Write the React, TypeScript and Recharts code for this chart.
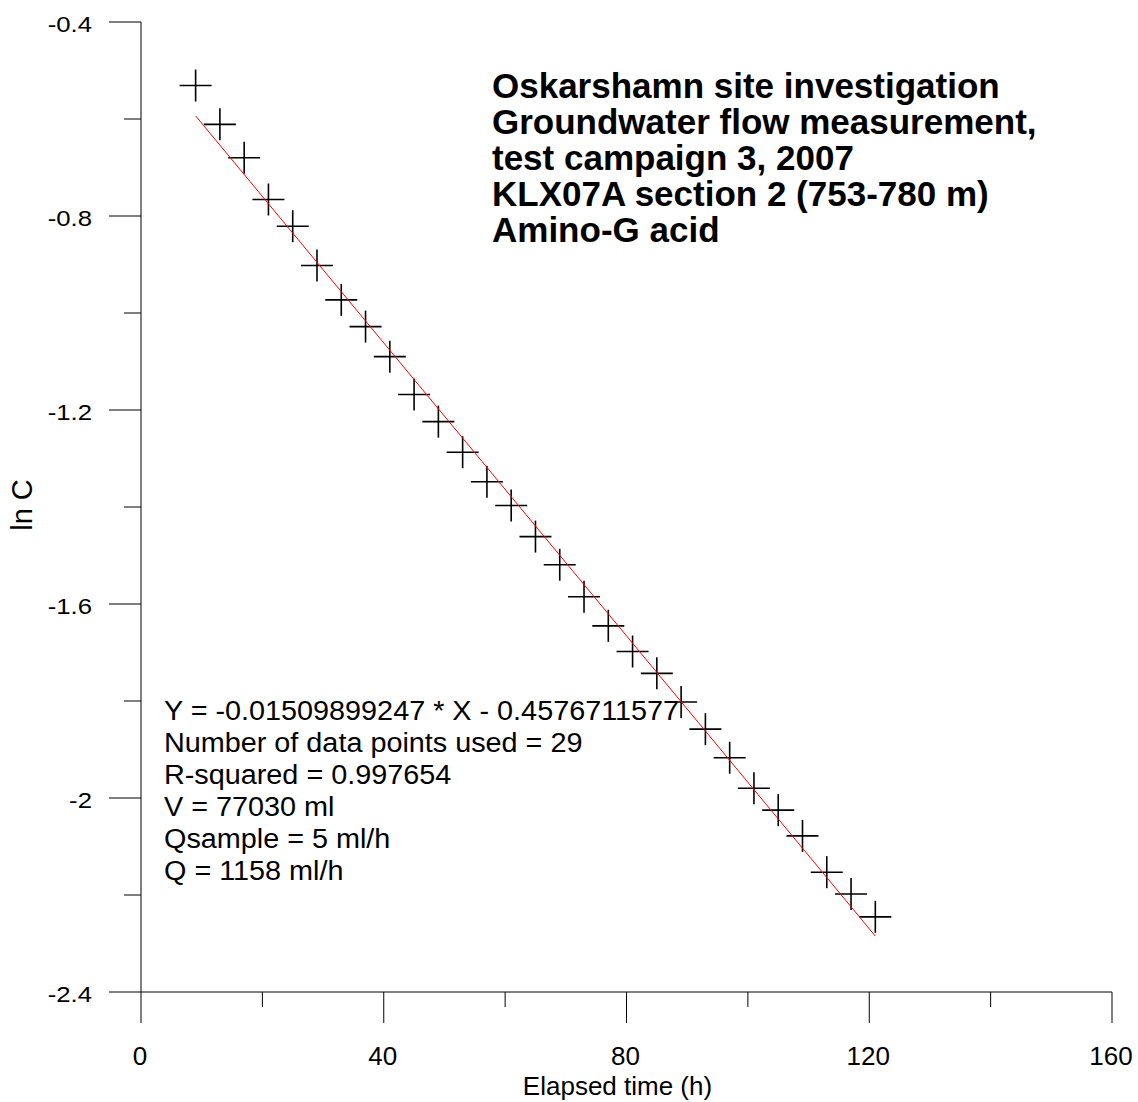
import {
    ScatterChart,
    Scatter,
    XAxis,
    YAxis,
    Label,
} from "recharts";

// elapsed time (h) of each sample
const elapsed = [
    9, 13, 17, 21, 25, 29, 33, 37, 41, 45, 49, 53, 57, 61, 65,
    69, 73, 77, 81, 85, 89, 93, 97, 101, 105, 109, 113, 117, 121,
];

// ln C
const lnC = [
    -0.531, -0.611, -0.68, -0.766, -0.821, -0.902, -0.973, -1.028, -1.09,
    -1.168, -1.224, -1.287, -1.348, -1.397, -1.461, -1.519, -1.585, -1.645,
    -1.698, -1.743, -1.802, -1.858, -1.917, -1.98, -2.025, -2.078, -2.153,
    -2.198, -2.245,
];

// fitted line end points (Y = -0.01509899247 * X - 0.4576711577)
const fitX = [9, 121];
const fitY = [-0.5936, -2.2847];

const xTicks = [0, 20, 40, 60, 80, 100, 120, 140, 160];
const yTicks = [-2.4, -2.2, -2, -1.8, -1.6, -1.4, -1.2, -1, -0.8, -0.6, -0.4];

const titleLines = [
    "Oskarshamn site investigation",
    "Groundwater flow measurement,",
    "test campaign 3, 2007",
    "KLX07A section 2 (753-780 m)",
    "Amino-G acid",
];

const statsLines = [
    "Y = -0.01509899247 * X - 0.4576711577",
    "Number of data points used = 29",
    "R-squared = 0.997654",
    "V = 77030 ml",
    "Qsample = 5 ml/h",
    "Q = 1158 ml/h",
];

const FONT = "'Liberation Sans', Arial, sans-serif";

const points = elapsed.map((x, i) => ({ x, y: lnC[i] }));
const fit = fitX.map((x, i) => ({ x, y: fitY[i] }));

const Cross = (props: any) => {
    const { cx, cy } = props;
    return (
        <g stroke="#000" strokeWidth={1.6}>
            <line x1={cx - 16} x2={cx + 16} y1={cy} y2={cy} />
            <line x1={cx} x2={cx} y1={cy - 16} y2={cy + 16} />
        </g>
    );
};

const NoDot = () => <g />;

const YTick = (props: any) => {
    const { x, y, payload } = props;
    const v = payload.value;
    const major = Math.abs(Math.round(v * 10)) % 4 === 0;
    return (
        <g>
            <line x1={x - (major ? 32 : 17)} x2={x} y1={y} y2={y} stroke="#000" />
            {major && (
                <text
                    transform={`translate(${x - 49},${y + 10}) scale(1.12,1)`}
                    textAnchor="end"
                    fontSize={23}
                    fontFamily={FONT}
                    fill="#000"
                >
                    {String(v)}
                </text>
            )}
        </g>
    );
};

const XTick = (props: any) => {
    const { x, y, payload } = props;
    const v = payload.value;
    const major = v % 40 === 0;
    return (
        <g>
            <line x1={x} x2={x} y1={y} y2={y + (major ? 31 : 15)} stroke="#000" />
            {major && (
                <text x={x - 1} y={y + 73} textAnchor="middle" fontSize={26} fontFamily={FONT} fill="#000">
                    {String(v)}
                </text>
            )}
        </g>
    );
};

export default function App() {
    return (
        <div
            style={{
                position: "fixed",
                left: 0,
                top: 0,
                width: 1138,
                height: 1102,
                overflow: "hidden",
                background: "#fff",
            }}
        >
            <ScatterChart
                width={1138}
                height={1102}
                margin={{ top: 22, right: 26, bottom: 0, left: 81 }}
                style={{ overflow: "visible" }}
            >
                <XAxis
                    type="number"
                    dataKey="x"
                    domain={[0, 160]}
                    ticks={xTicks}
                    height={110}
                    tickSize={0}
                    tickMargin={0}
                    tickLine={false}
                    tick={<XTick />}
                    axisLine={{ stroke: "#000" }}
                    allowDataOverflow
                >
                    <Label
                        content={(p: any) => (
                            <text
                                x={p.viewBox.x + p.viewBox.width / 2 - 9}
                                y={1095}
                                textAnchor="middle"
                                fontSize={26}
                                fontFamily={FONT}
                                fill="#000"
                            >
                                Elapsed time (h)
                            </text>
                        )}
                    />
                </XAxis>
                <YAxis
                    type="number"
                    dataKey="y"
                    domain={[-2.4, -0.4]}
                    ticks={yTicks}
                    width={60}
                    tickSize={0}
                    tickMargin={0}
                    tickLine={false}
                    tick={<YTick />}
                    axisLine={{ stroke: "#000" }}
                    allowDataOverflow
                >
                    <Label
                        content={(p: any) => {
                            const cy = p.viewBox.y + p.viewBox.height / 2 - 2;
                            return (
                                <text
                                    x={32}
                                    y={cy}
                                    transform={`rotate(-90 32 ${cy})`}
                                    textAnchor="middle"
                                    fontSize={29}
                                    fontFamily={FONT}
                                    fill="#000"
                                >
                                    ln C
                                </text>
                            );
                        }}
                    />
                </YAxis>
                <Scatter data={points} shape={<Cross />} isAnimationActive={false} />
                <Scatter
                    data={fit}
                    shape={<NoDot />}
                    line={{ stroke: "#ff0000", strokeWidth: 1 }}
                    lineType="joint"
                    isAnimationActive={false}
                />
            </ScatterChart>

            <div
                style={{
                    position: "absolute",
                    left: 492,
                    top: 68,
                    fontFamily: FONT,
                    fontWeight: "bold",
                    fontSize: 35,
                    lineHeight: "36px",
                    color: "#000",
                    whiteSpace: "nowrap",
                }}
            >
                {titleLines.map((t) => (
                    <div key={t}>{t}</div>
                ))}
            </div>

            <div
                style={{
                    position: "absolute",
                    left: 164,
                    top: 695,
                    fontFamily: FONT,
                    fontSize: 27,
                    lineHeight: "32px",
                    color: "#000",
                    whiteSpace: "nowrap",
                    transform: "scaleX(1.066)",
                    transformOrigin: "left top",
                }}
            >
                {statsLines.map((t) => (
                    <div key={t}>{t}</div>
                ))}
            </div>
        </div>
    );
}
